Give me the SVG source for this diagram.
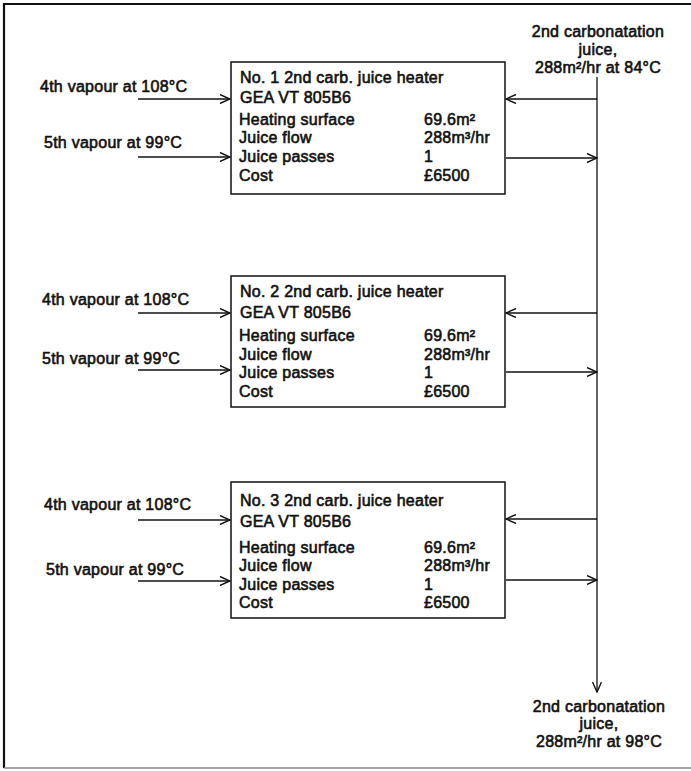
<svg xmlns="http://www.w3.org/2000/svg" width="691" height="771" viewBox="0 0 691 771">
<defs>
<style>
text{font-family:"Liberation Sans",Arial,sans-serif;font-size:16px;fill:#111;stroke:#111;stroke-width:0.6;letter-spacing:0.25px}
.c{text-anchor:middle}
.box{fill:#fff;stroke:#111;stroke-width:1.5}
.ln{fill:none;stroke:#111;stroke-width:1.3}
</style>
<marker id="ah" viewBox="0 0 12 10" refX="11" refY="5" markerWidth="12" markerHeight="10" markerUnits="userSpaceOnUse" orient="auto">
<path d="M1,0.5 L11,5 L1,9.5" fill="none" stroke="#111" stroke-width="1.4"/>
</marker>
</defs>
<rect x="0" y="0" width="691" height="771" fill="#fff"/>
<g id="frame">
<path d="M4,768 L4,4 L691,4" fill="none" stroke="#111" stroke-width="2.2"/>
<path d="M4,768 L691,768" fill="none" stroke="#888" stroke-width="1.5"/>
</g>
<g id="connectors">
<path class="ln" d="M597,77 L597,692" marker-end="url(#ah)"/>
<path class="ln" d="M138,99 L230,99" marker-end="url(#ah)"/>
<path class="ln" d="M138,157 L230,157" marker-end="url(#ah)"/>
<path class="ln" d="M597,99 L506,99" marker-end="url(#ah)"/>
<path class="ln" d="M506,158 L597,158" marker-end="url(#ah)"/>
<path class="ln" d="M138,313 L230,313" marker-end="url(#ah)"/>
<path class="ln" d="M138,370 L230,370" marker-end="url(#ah)"/>
<path class="ln" d="M597,313 L506,313" marker-end="url(#ah)"/>
<path class="ln" d="M506,372 L597,372" marker-end="url(#ah)"/>
<path class="ln" d="M138,520 L230,520" marker-end="url(#ah)"/>
<path class="ln" d="M138,581 L230,581" marker-end="url(#ah)"/>
<path class="ln" d="M597,519 L506,519" marker-end="url(#ah)"/>
<path class="ln" d="M506,580 L597,580" marker-end="url(#ah)"/>
</g>
<g id="juice-in">
<text class="c" x="598" y="37">2nd carbonatation</text>
<text class="c" x="598" y="55">juice,</text>
<text class="c" x="598" y="73">288m²/hr at 84°C</text>
</g>
<g id="juice-out">
<text class="c" x="599" y="712">2nd carbonatation</text>
<text class="c" x="599" y="729">juice,</text>
<text class="c" x="599" y="747">288m²/hr at 98°C</text>
</g>
<g id="vapour-labels-1">
<text x="40" y="92">4th vapour at 108°C</text>
<text x="44" y="148">5th vapour at 99°C</text>
</g>
<g id="vapour-labels-2">
<text x="42" y="305">4th vapour at 108°C</text>
<text x="42" y="364">5th vapour at 99°C</text>
</g>
<g id="vapour-labels-3">
<text x="44" y="510">4th vapour at 108°C</text>
<text x="46" y="575">5th vapour at 99°C</text>
</g>
<g id="heater1">
<rect class="box" x="231" y="62" width="274" height="132"/>
<text x="240" y="83">No. 1 2nd carb. juice heater</text>
<text x="240" y="103">GEA VT 805B6</text>
<text x="239" y="125">Heating surface</text>
<text x="239" y="143">Juice flow</text>
<text x="239" y="162">Juice passes</text>
<text x="239" y="181">Cost</text>
<text x="424" y="125">69.6m²</text>
<text x="424" y="143">288m³/hr</text>
<text x="424" y="162">1</text>
<text x="424" y="181">£6500</text>
</g>
<g id="heater2">
<rect class="box" x="231" y="276" width="274" height="131"/>
<text x="240" y="297">No. 2 2nd carb. juice heater</text>
<text x="240" y="318">GEA VT 805B6</text>
<text x="239" y="341">Heating surface</text>
<text x="239" y="360">Juice flow</text>
<text x="239" y="378">Juice passes</text>
<text x="239" y="397">Cost</text>
<text x="424" y="341">69.6m²</text>
<text x="424" y="360">288m³/hr</text>
<text x="424" y="378">1</text>
<text x="424" y="397">£6500</text>
</g>
<g id="heater3">
<rect class="box" x="231" y="482" width="274" height="136"/>
<text x="240" y="506">No. 3 2nd carb. juice heater</text>
<text x="240" y="527">GEA VT 805B6</text>
<text x="239" y="553">Heating surface</text>
<text x="239" y="571">Juice flow</text>
<text x="239" y="590">Juice passes</text>
<text x="239" y="608">Cost</text>
<text x="424" y="553">69.6m²</text>
<text x="424" y="571">288m³/hr</text>
<text x="424" y="590">1</text>
<text x="424" y="608">£6500</text>
</g>
</svg>
